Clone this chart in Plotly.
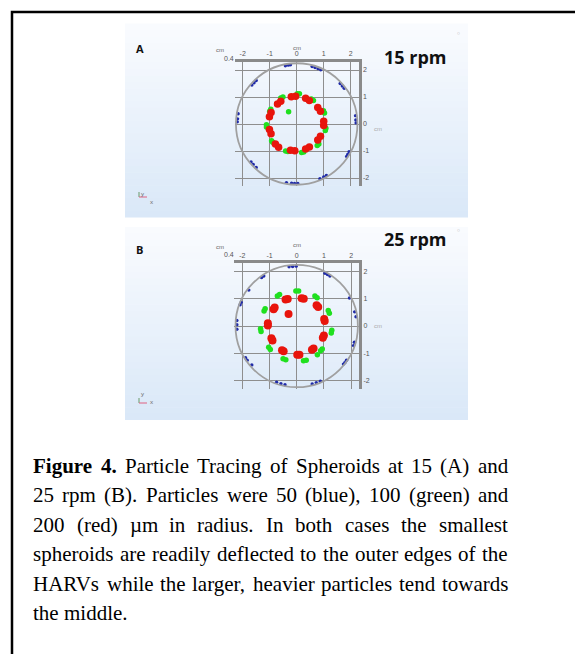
import plotly.graph_objects as go

W, H = 575, 654

# ---------------- data ----------------
tick_vals = [-2, -1, 0, 1, 2]
tick_text = ["-2", "-1", "0", "1", "2"]
harv_radius = 2.25  # cm

panel_titles = ["15 rpm", "25 rpm"]
panel_letters = ["A", "B"]

# Panel A (15 rpm)
blueA_x = [-0.42, -0.31, -0.23, 0.57, 0.68, 0.79, 0.89, -1.50, -1.58, -1.66, 1.61, 1.69, 1.76,
           2.18, 2.19, 2.20, 1.94, 1.89, 1.85, 0.86, 1.00, 1.10, -0.38, -0.19, -0.08, 0.04,
           -1.50, -1.61, -1.69, -2.17, -2.19, -2.20]
blueA_y = [2.16, 2.18, 2.19, 2.13, 2.09, 2.05, 2.01, 1.61, 1.53, 1.44, 1.50, 1.41, 1.32,
           0.31, 0.15, 0.04, -1.03, -1.13, -1.20, -2.03, -1.96, -1.91, -2.17, -2.19, -2.20, -2.20,
           -1.61, -1.50, -1.41, 0.38, 0.19, 0.08]
greenA_x = [0.02, 0.10, -0.59, -0.51, 0.54, 0.62, 0.99, 1.03, 1.08, 1.06, 0.82, 0.76, 0.26, 0.18,
            -0.33, -0.41, -0.89, -0.93, -1.12, -1.12, -1.00, -0.96, -0.30]
greenA_y = [1.12, 1.12, 0.96, 1.00, 0.93, 0.87, 0.49, 0.41, -0.16, -0.24, -0.74, -0.80, -1.04, -1.06,
            -1.02, -1.00, -0.68, -0.62, -0.11, -0.03, 0.47, 0.55, 0.45]
redA_x = [-0.20, -0.04, 0.33, 0.47, 0.78, 0.88, 1.00, 1.00, 0.88, 0.78, 0.47, 0.33, -0.07, -0.23,
          -0.67, -0.79, -0.95, -1.01, -1.01, -0.95, -0.71, -0.59]
redA_y = [1.01, 1.03, 0.95, 0.87, 0.61, 0.47, 0.10, -0.06, -0.45, -0.59, -0.85, -0.93, -0.99, -0.97,
          -0.86, -0.74, -0.36, -0.20, 0.27, 0.43, 0.74, 0.84]

# Panel B (25 rpm)
blueB_x = [-0.28, -0.15, -0.02, 1.04, 1.13, 1.22, 1.94, 2.13, 2.18, 2.12, 2.09, 1.83, 1.77, 1.72,
           0.57, 0.72, 0.87, -0.74, -0.58, -0.43, -1.88, -1.82, -1.65, -2.20, -2.20, -2.20,
           -2.08, -2.04, -1.76, -1.29, -1.21]
blueB_y = [2.18, 2.19, 2.20, 1.94, 1.89, 1.84, 1.03, 0.52, 0.34, -0.60, -0.72, -1.26, -1.35, -1.40,
           -2.13, -2.08, -2.03, -2.07, -2.12, -2.16, -1.17, -1.26, -1.43, 0.20, 0.05, -0.12,
           0.78, 0.87, 1.32, 1.78, 1.84]
greenB_x = [-0.03, 0.07, -0.71, -0.63, 0.67, 0.75, 1.16, 1.20, 1.29, 1.27, 0.94, 0.88, 0.76,
            0.35, 0.25, -0.40, -0.50, -0.97, -1.03, -1.31, -1.33, -1.20, -1.16]
greenB_y = [1.29, 1.29, 1.10, 1.16, 1.10, 1.04, 0.57, 0.47, -0.16, -0.26, -0.85, -0.91, -1.06,
            -1.26, -1.28, -1.24, -1.20, -0.86, -0.78, -0.20, -0.10, 0.55, 0.63]
redB_x = [-0.41, -0.33, 0.18, 0.26, 0.73, 0.79, 1.01, 1.03, 1.00, 0.96, 0.62, 0.56, 0.10, 0.02,
          -0.48, -0.54, -0.89, -0.93, -1.06, -1.06, -0.85, -0.81, -0.30]
redB_y = [0.97, 0.99, 1.02, 1.00, 0.76, 0.70, 0.26, 0.18, -0.35, -0.43, -0.83, -0.87, -1.06, -1.06,
          -0.93, -0.89, -0.53, -0.45, 0.02, 0.10, 0.62, 0.68, 0.44]

# caption: list of lines, each a list of (word, bold)
caption_lines = [
    [("Figure", 1), ("4.", 1), ("Particle", 0), ("Tracing", 0), ("of", 0), ("Spheroids", 0),
     ("at", 0), ("15", 0), ("(A)", 0), ("and", 0)],
    [("25", 0), ("rpm", 0), ("(B).", 0), ("Particles", 0), ("were", 0), ("50", 0), ("(blue),", 0),
     ("100", 0), ("(green)", 0), ("and", 0)],
    [("200", 0), ("(red)", 0), ("\u00b5m", 0), ("in", 0), ("radius.", 0), ("In", 0), ("both", 0),
     ("cases", 0), ("the", 0), ("smallest", 0)],
    [("spheroids", 0), ("are", 0), ("readily", 0), ("deflected", 0), ("to", 0), ("the", 0),
     ("outer", 0), ("edges", 0), ("of", 0), ("the", 0)],
    [("HARVs", 0), ("while", 0), ("the", 0), ("larger,", 0), ("heavier", 0), ("particles", 0),
     ("tend", 0), ("towards", 0)],
    [("the", 0), ("middle.", 0)],
]

# Times-compatible advance widths (per 1000 em) used only to lay out justified text
_REG = {" ": 250, "(": 333, ")": 333, ",": 250, ".": 250, "A": 722, "B": 667, "H": 722, "I": 333,
        "P": 556, "R": 667, "S": 556, "T": 611, "V": 722, "F": 556, "a": 444, "b": 500, "c": 444,
        "d": 500, "e": 444, "f": 333, "g": 500, "h": 500, "i": 278, "k": 500, "l": 278, "m": 778,
        "n": 500, "o": 500, "p": 500, "r": 333, "s": 389, "t": 278, "u": 500, "v": 500, "w": 722,
        "x": 500, "y": 500, "\u00b5": 500}
_BOLD = {"F": 611, "i": 278, "g": 500, "u": 556, "r": 444, "e": 444, ".": 250}


def word_width(word, bold, fs):
    tot = 0
    for ch in word:
        if ch.isdigit():
            tot += 500
        elif bold and ch in _BOLD:
            tot += _BOLD[ch]
        else:
            tot += _REG.get(ch, 500)
    return tot / 1000 * fs


# ---------------- layout helpers ----------------
def fx(px):
    return px / W


def fy(py):
    return 1 - py / H


BLUE = "#1f2aa8"
GREEN = "#1fe01f"
RED = "#e8140c"
GRID = "#8e8e8e"
AXL = "#8a8a8a"

fig = go.Figure()

panels = [
    dict(cx=296.7, cy=124.0, s=27.0, box=(125, 23.5, 468, 217.5),
         bx=blueA_x, by=blueA_y, gx=greenA_x, gy=greenA_y, rx=redA_x, ry=redA_y,
         red_size=7.5, green_size=5.5),
    dict(cx=296.7, cy=326.0, s=27.2, box=(125, 227, 468, 420),
         bx=blueB_x, by=blueB_y, gx=greenB_x, gy=greenB_y, rx=redB_x, ry=redB_y,
         red_size=8, green_size=5.5),
]

shapes = []
annotations = []

# outer frame (open to right and bottom)
shapes.append(dict(type="path", xref="paper", yref="paper",
                   path=f"M {fx(12)} {fy(654)} L {fx(12)} {fy(12)} L {fx(575)} {fy(12)}",
                   line=dict(color="black", width=2.5)))

top_col = (249, 251, 254)
bot_col = (218, 232, 248)
NB = 30

rng = 2.3
for i, p in enumerate(panels):
    n = i + 1
    xa = "xaxis" if n == 1 else f"xaxis{n}"
    ya = "yaxis" if n == 1 else f"yaxis{n}"
    xr = "x" if n == 1 else f"x{n}"
    yr = "y" if n == 1 else f"y{n}"
    x0, y0, x1, y1 = p["box"]
    # gradient background bands
    for k in range(NB):
        t = k / (NB - 1)
        c = tuple(int(round(top_col[j] + (bot_col[j] - top_col[j]) * t)) for j in range(3))
        ya0 = y0 + (y1 - y0) * k / NB
        ya1 = y0 + (y1 - y0) * (k + 1) / NB + 0.6
        shapes.append(dict(type="rect", xref="paper", yref="paper", layer="below",
                           x0=fx(x0), x1=fx(x1), y0=fy(min(ya1, y1)), y1=fy(ya0),
                           fillcolor=f"rgb{c}", line=dict(width=0)))
    half = rng * p["s"]
    fig.update_layout(**{
        xa: dict(domain=[fx(p["cx"] - half), fx(p["cx"] + half)], range=[-rng, rng],
                 side="top", anchor=yr, tickvals=tick_vals, ticktext=tick_text,
                 showgrid=True, gridcolor=GRID, gridwidth=1, zeroline=False,
                 showline=True, linecolor=AXL, linewidth=2.5, ticks="",
                 tickfont=dict(size=7, color="#555", family="Liberation Sans")),
        ya: dict(domain=[fy(p["cy"] + half), fy(p["cy"] - half)], range=[-rng, rng],
                 side="right", anchor=xr, tickvals=tick_vals, ticktext=tick_text,
                 showgrid=True, gridcolor=GRID, gridwidth=1, zeroline=False,
                 showline=True, linecolor=AXL, linewidth=2.5, ticks="",
                 tickfont=dict(size=7, color="#555", family="Liberation Sans")),
    })
    # HARV wall
    shapes.append(dict(type="circle", xref=xr, yref=yr, layer="above",
                       x0=-harv_radius, x1=harv_radius, y0=-harv_radius, y1=harv_radius,
                       line=dict(color="#a0a0a0", width=1.8)))
    fig.add_trace(go.Scatter(x=p["bx"], y=p["by"], mode="markers", xaxis=xr, yaxis=yr,
                             marker=dict(color=BLUE, size=3.4), cliponaxis=False,
                             showlegend=False, hoverinfo="skip"))
    fig.add_trace(go.Scatter(x=p["gx"], y=p["gy"], mode="markers", xaxis=xr, yaxis=yr,
                             marker=dict(color=GREEN, size=p["green_size"]),
                             showlegend=False, hoverinfo="skip"))
    fig.add_trace(go.Scatter(x=p["rx"], y=p["ry"], mode="markers", xaxis=xr, yaxis=yr,
                             marker=dict(color=RED, size=p["red_size"]),
                             showlegend=False, hoverinfo="skip"))

    small = dict(size=6, color="#666", family="Liberation Sans")
    # axis unit labels
    annotations.append(dict(x=fx(p["cx"]), y=fy(p["cy"] - 81), xref="paper", yref="paper",
                            text="cm", showarrow=False, font=small))
    annotations.append(dict(x=fx(220), y=fy(p["cy"] - 79), xref="paper", yref="paper",
                            text="cm", showarrow=False, font=small))
    annotations.append(dict(x=fx(229), y=fy(p["cy"] - 71.5), xref="paper", yref="paper",
                            text="0.4", showarrow=False, font=dict(size=7, color="#555", family="Liberation Sans")))
    annotations.append(dict(x=fx(378), y=fy(p["cy"]), xref="paper", yref="paper",
                            text="cm", showarrow=False, font=dict(size=6, color="#aaa", family="Liberation Sans")))
    # panel letter and title
    ly = 39 if n == 1 else 249
    ty = 43 if n == 1 else 239
    annotations.append(dict(x=fx(134), y=fy(ly), xref="paper", yref="paper", xanchor="left",
                            text=f"<b>{panel_letters[i]}</b>", showarrow=False,
                            font=dict(size=11, color="#111", family="Open Sans")))
    annotations.append(dict(x=fx(382), y=fy(ty), xref="paper", yref="paper", xanchor="left",
                            text=f"<b>{panel_titles[i]}</b>", showarrow=False,
                            font=dict(size=18, color="#111", family="Open Sans")))
    # small icon
    iy = 28 if n == 1 else 230
    annotations.append(dict(x=fx(462), y=fy(iy), xref="paper", yref="paper",
                            text="\u25cb", showarrow=False, font=dict(size=5, color="#999")))
    # axis triad
    ty0 = 197 if n == 1 else 403
    shapes.append(dict(type="line", xref="paper", yref="paper",
                       x0=fx(139), x1=fx(139), y0=fy(ty0), y1=fy(ty0 - 5),
                       line=dict(color="#6a9a6a", width=1)))
    shapes.append(dict(type="line", xref="paper", yref="paper",
                       x0=fx(139), x1=fx(147), y0=fy(ty0), y1=fy(ty0),
                       line=dict(color="#e06080", width=1)))
    annotations.append(dict(x=fx(139), y=fy(ty0 - 9), xref="paper", yref="paper",
                            text="y", showarrow=False, font=dict(size=6, color="#666")))
    annotations.append(dict(x=fx(148), y=fy(ty0 - 1), xref="paper", yref="paper", xanchor="left",
                            text="x", showarrow=False, font=dict(size=6, color="#666")))

# caption, justified between left and right margins
FS = 21
left_px, right_px = 32, 507
center0, dy = 466, 29.4
for k, words in enumerate(caption_lines):
    widths = [word_width(w, b, FS) for w, b in words]
    last = k == len(caption_lines) - 1
    if last or len(words) < 2:
        gap = 0.25 * FS
    else:
        gap = (right_px - left_px - sum(widths)) / (len(words) - 1)
    xpos = left_px
    for (w, b), wd in zip(words, widths):
        txt = f"<b>{w}</b>" if b else w
        annotations.append(dict(x=fx(xpos), y=fy(center0 + k * dy), xref="paper", yref="paper",
                                xanchor="left", yanchor="middle", text=txt, showarrow=False,
                                borderpad=0,
                                font=dict(size=FS, color="black", family="Liberation Serif")))
        xpos += wd + gap

fig.update_layout(width=W, height=H, margin=dict(l=0, r=0, t=0, b=0),
                  paper_bgcolor="white", plot_bgcolor="rgba(0,0,0,0)",
                  shapes=shapes, annotations=annotations, showlegend=False)

fig.write_html("out.html")
